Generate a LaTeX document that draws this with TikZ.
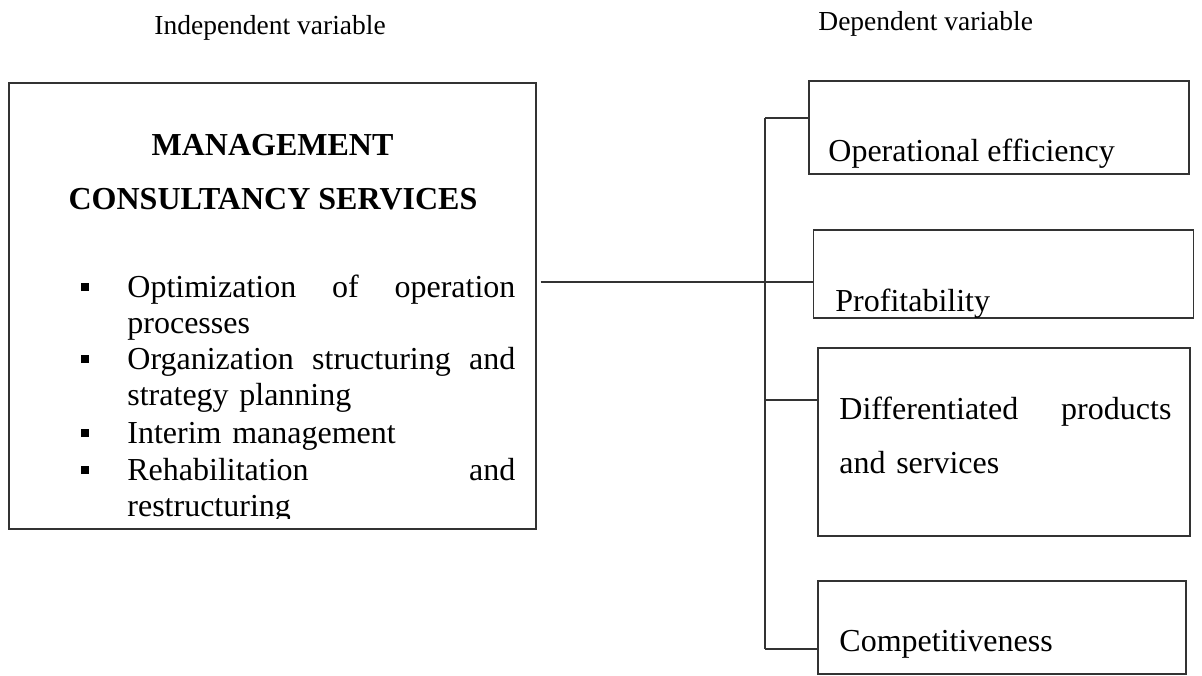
\documentclass[tikz,border=0pt]{standalone}
\usepackage{fontspec}
\setmainfont{Liberation Serif}
\usetikzlibrary{positioning,calc}

\newcommand{\sqbullet}{\llap{\rule[3pt]{4pt}{4pt}\hspace{19pt}}}
% justified line of a given width (tikz's align sets a rigid \spaceskip)
\newcommand{\spreadline}[2]{\makebox[#1][s]{\spaceskip=0pt\xspaceskip=0pt #2}}

\begin{document}
\begin{tikzpicture}[x=0.5pt,y=-0.5pt,
  box/.style={draw=black!80,line width=0.6pt,inner sep=0pt},
  conn/.style={black!80,line width=0.6pt},
  txt/.style={anchor=base west,inner sep=0pt,font=\fontsize{16}{18.25}\selectfont},
  item/.style={txt,text width=194pt,align=left},
  head/.style={txt,font=\fontsize{13.75}{16}\selectfont}]
  \useasboundingbox (0,0) rectangle (1202,675);

  \node[head] (indep) at (154,34) {Independent variable};
  \node[head] (dep) at (818,30) {Dependent variable};

  % independent variable
  \node[box,minimum width=263.5pt,minimum height=223pt] (main) at (272.5,306) {};
  \node[txt,anchor=base,font=\bfseries\fontsize{16}{18}\selectfont] (title1) at (272.5,155) {MANAGEMENT};
  \node[txt,anchor=base,font=\bfseries\fontsize{16}{18}\selectfont] (title2) at (273,209) {CONSULTANCY SERVICES};
  \begin{scope}
    \clip (main.north west) rectangle ($(main.south east)+(0,-11)$);
    \node[item] (svc1) at (127,297) {\sqbullet\spreadline{194pt}{Optimization of operation}\\ processes};
    \node[item] (svc2) at (127,369) {\sqbullet\spreadline{194pt}{Organization structuring and}\\ strategy planning};
    \node[item] (svc3) at (127,443) {\sqbullet Interim management};
    \node[item] (svc4) at (127,480) {\sqbullet\spreadline{194pt}{Rehabilitation and}\\ restructuring};
  \end{scope}

  % dependent variables
  \node[box,minimum width=190pt,minimum height=46.5pt] (ops) at (999,127.5) {};
  \node[box,minimum width=190pt,minimum height=44pt] (prof) at (1003.5,274) {};
  \node[box,minimum width=186pt,minimum height=94pt] (diff) at (1004,442) {};
  \node[box,minimum width=184pt,minimum height=46.5pt] (comp) at (1002,627.5) {};
  \node[txt] (opslbl) at (828,161) {Operational efficiency};
  \node[txt] (proflbl) at (835,311) {Profitability};
  \node[txt,text width=166pt,align=left,font=\fontsize{16}{27}\selectfont] (difflbl) at (839,419)
    {\spreadline{166pt}{Differentiated products}\\ and services};
  \node[txt] (complbl) at (839,651) {Competitiveness};

  \coordinate (vtop) at (765,118);
  \coordinate (hub) at (765,282);
  \coordinate (vmid) at (765,400);
  \coordinate (vbot) at (765,649);
  \draw[conn] (vtop) -- (vbot);
  \draw[conn] (vtop) -- (vtop -| ops.west);
  \draw[conn] ($(main.east |- hub)+(4,0)$) -- (hub -| prof.west);
  \draw[conn] (vmid) -- (vmid -| diff.west);
  \draw[conn] (vbot) -- (vbot -| comp.west);
\end{tikzpicture}
\end{document}
